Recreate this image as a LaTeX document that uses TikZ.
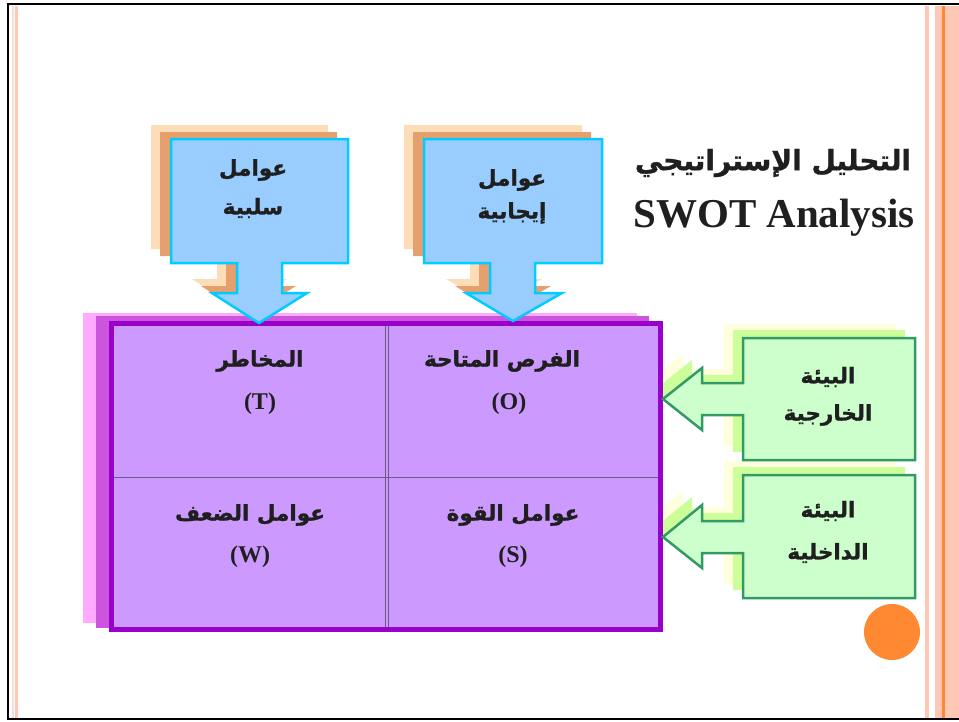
\documentclass[tikz,border=0pt]{standalone}
\usepackage{fontspec}
\setmainfont{Liberation Serif}
\newfontfamily\arabicfont[Script=Arabic,BoldFeatures={FakeBold=1.2}]{DejaVu Sans}
\TeXXeTstate=1
\definecolor{bluefill}{HTML}{99CCFF}
\definecolor{blueline}{HTML}{00CCFF}
\definecolor{peachA}{HTML}{FDDDB8}
\definecolor{peachB}{HTML}{E5A06E}
\definecolor{purpfill}{HTML}{CC99FF}
\definecolor{purpline}{HTML}{9900CC}
\definecolor{pinkA}{HTML}{FFAAFF}
\definecolor{pinkB}{HTML}{CC55DD}
\definecolor{greenfill}{HTML}{CCFFCC}
\definecolor{greenline}{HTML}{339966}
\definecolor{greenA}{HTML}{FFFFDD}
\definecolor{greenB}{HTML}{CCFF99}
\definecolor{stripe}{HTML}{FFC8B4}
\definecolor{stripeO}{HTML}{FF8833}
\definecolor{divline}{HTML}{6E5A7E}
\begin{document}
\begin{tikzpicture}[x=1pt,y=-1pt,
  artxt/.style={font=\arabicfont\bfseries\fontsize{21.5}{26}\selectfont,text=black!88,inner sep=0pt},
  lattxt/.style={font=\bfseries\fontsize{24}{28}\selectfont,text=black!88,inner sep=0pt},
  bluearrow/.style={fill=bluefill,draw=blueline,line width=2.5pt,line join=miter},
  greenarrow/.style={fill=greenfill,draw=greenline,line width=2.5pt,line join=miter},
  cellline/.style={draw=divline,line width=0.8pt}]
\useasboundingbox (0,0) rectangle (959,721);
% page frame and stripes
\fill[stripe!60] (12,6) rectangle (13.5,718);
\fill[stripe] (15,6) rectangle (18,718);
\fill[stripe] (925,6) rectangle (929,718);
\fill[stripe] (935,6) rectangle (959,718);
\fill[stripeO] (942,6) rectangle (944.5,718);
\draw[line width=2.5pt] (959,4) -- (8,4) -- (8,719) -- (959,719);
% green arrow shadows
\foreach \dx/\dy/\c in {-19/-14/greenA,-10/-8/greenB}{
  \begin{scope}[shift={(\dx,\dy)}]
  \fill[\c] (743,338) -- (915,338) -- (915,460) -- (743,460) -- (743,415) -- (702,415) -- (702,430) -- (663,399) -- (702,368) -- (702,383) -- (743,383) -- cycle;
  \fill[\c] (743,475) -- (915,475) -- (915,598) -- (743,598) -- (743,553) -- (702,553) -- (702,568) -- (663,537) -- (702,505) -- (702,521) -- (743,521) -- cycle;
  \end{scope}}
% blue arrow shadows
\foreach \dx/\dy/\c in {-20/-14/peachA,-11/-7/peachB}{
  \begin{scope}[shift={(\dx,\dy)}]
  \fill[\c] (171,139) -- (348,139) -- (348,263) -- (282,263) -- (282,293) -- (307,293) -- (259,323) -- (212,293) -- (237,293) -- (237,263) -- (171,263) -- cycle;
  \fill[\c] (424,139) -- (602,139) -- (602,263) -- (535,263) -- (535,293) -- (562,293) -- (513,321) -- (466,293) -- (490,293) -- (490,263) -- (424,263) -- cycle;
  \end{scope}}
% purple grid shadows
\fill[pinkA] (83,313) rectangle (637,623);
\fill[pinkB] (96,316) rectangle (649,628);
% purple grid
\fill[purpfill] (111.5,323.5) rectangle (660.5,629.5);
\draw[cellline] (385,324) -- (385,629);
\draw[cellline] (388,324) -- (388,629);
\draw[cellline] (112,477) -- (660,477);
\draw[purpline,line width=5pt] (111.5,323.5) rectangle (660.5,629.5);
% green arrows
\draw[greenarrow] (743,338) -- (915,338) -- (915,460) -- (743,460) -- (743,415) -- (702,415) -- (702,430) -- (663,399) -- (702,368) -- (702,383) -- (743,383) -- cycle;
\draw[greenarrow] (743,475) -- (915,475) -- (915,598) -- (743,598) -- (743,553) -- (702,553) -- (702,568) -- (663,537) -- (702,505) -- (702,521) -- (743,521) -- cycle;
% blue arrows
\draw[bluearrow] (171,139) -- (348,139) -- (348,263) -- (282,263) -- (282,293) -- (307,293) -- (259,323) -- (212,293) -- (237,293) -- (237,263) -- (171,263) -- cycle;
\draw[bluearrow] (424,139) -- (602,139) -- (602,263) -- (535,263) -- (535,293) -- (562,293) -- (513,321) -- (466,293) -- (490,293) -- (490,263) -- (424,263) -- cycle;
% orange dot
\fill[stripeO] (892,632) circle (28);
% texts in blue arrows
\node[artxt] (neg1) at (253,170) {\beginR عوامل\endR};
\node[artxt] (neg2) at (253,208) {\beginR سلبية\endR};
\node[artxt] (pos1) at (512,180) {\beginR عوامل\endR};
\node[artxt] (pos2) at (512,213) {\beginR إيجابية\endR};
% title
\node[inner sep=0pt,font=\arabicfont\bfseries\fontsize{28}{32}\selectfont,text=black!88] (title1) at (773,163) {\beginR التحليل الإستراتيجي\endR};
\node[inner sep=0pt,font=\bfseries\fontsize{41}{46}\selectfont,text=black!88] (title2) at (774,218) {SWOT Analysis};
% cells
\node[artxt] (t1) at (260,361) {\beginR المخاطر\endR};
\node[lattxt] (t2) at (260,404) {(T)};
\node[artxt] (o1) at (502,361) {\beginR الفرص المتاحة\endR};
\node[lattxt] (o2) at (509,404) {(O)};
\node[artxt] (w1) at (250,515) {\beginR عوامل الضعف\endR};
\node[lattxt] (w2) at (250,557) {(W)};
\node[artxt] (s1) at (513,515) {\beginR عوامل القوة\endR};
\node[lattxt] (s2) at (513,557) {(S)};
% green texts
\node[artxt] (ext1) at (828,377) {\beginR البيئة\endR};
\node[artxt] (ext2) at (828,415) {\beginR الخارجية\endR};
\node[artxt] (int1) at (828,511) {\beginR البيئة\endR};
\node[artxt] (int2) at (828,553) {\beginR الداخلية\endR};
\end{tikzpicture}
\end{document}
